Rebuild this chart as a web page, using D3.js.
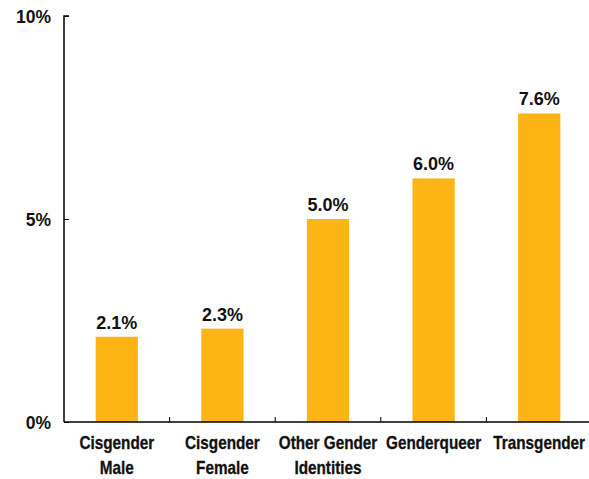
<!DOCTYPE html>
<html>
<head>
<meta charset="utf-8">
<script src="https://cdn.jsdelivr.net/npm/d3@7"></script>
<style>
  body { margin: 0; background: #fff; }
  svg { display: block; }
</style>
</head>
<body>
<svg width="589" height="479"></svg>
<script>
// values
const categories = [['Cisgender', 'Male'], ['Cisgender', 'Female'], ['Other Gender', 'Identities'], ['Genderqueer'], ['Transgender']];
const shares = [2.1, 2.3, 5.0, 6.0, 7.6];
const yTicks = [0, 5, 10];

const svg = d3.select('svg');
const plotLeft = 64, plotRight = 592, plotTop = 16, plotBottom = 422;

const x = d3.scaleBand()
  .domain(d3.range(categories.length))
  .range([plotLeft, plotRight])
  .paddingInner(0.6)
  .paddingOuter(0.3);

const y = d3.scaleLinear().domain([0, 10]).range([plotBottom, plotTop]);

const labelFont = '"Liberation Sans", Arial, sans-serif';

// bars
svg.append('g').selectAll('rect')
  .data(shares)
  .join('rect')
    .attr('x', (d, i) => x(i))
    .attr('y', d => y(d))
    .attr('width', x.bandwidth())
    .attr('height', d => plotBottom - y(d))
    .attr('fill', '#FDB515');

// value labels
svg.append('g').selectAll('text')
  .data(shares)
  .join('text')
    .attr('x', (d, i) => x(i) + x.bandwidth() / 2)
    .attr('y', d => y(d) - 8)
    .attr('text-anchor', 'middle')
    .style('font-family', labelFont)
    .style('font-weight', 'bold')
    .style('font-size', '18px')
    .attr('fill', '#111')
    .text(d => d.toFixed(1) + '%');

// y axis
const yAxis = svg.append('g')
  .attr('transform', `translate(${plotLeft},0)`)
  .call(d3.axisRight(y).tickValues(yTicks).tickSize(5).tickFormat(d => d + '%'));
yAxis.select('.domain').attr('d', `M5,${plotTop}H0V${plotBottom}`).attr('stroke', '#000').attr('stroke-width', 1.5);
yAxis.selectAll('.tick line').attr('stroke', '#000');
yAxis.selectAll('.tick text')
  .attr('x', -13)
  .attr('dy', '0.35em')
  .attr('text-anchor', 'end')
  .style('font-family', labelFont)
  .style('font-weight', 'bold')
  .style('font-size', '17.5px')
  .attr('fill', '#111');

// x axis
const xAxis = svg.append('g')
  .attr('transform', `translate(0,${plotBottom})`);
xAxis.append('line')
  .attr('x1', plotLeft).attr('x2', plotRight)
  .attr('stroke', '#000').attr('stroke-width', 1.5);
xAxis.selectAll('line.tick')
  .data(d3.range(1, categories.length))
  .join('line')
    .attr('class', 'tick')
    .attr('x1', i => x(i) - x.step() * x.paddingInner() / 2)
    .attr('x2', i => x(i) - x.step() * x.paddingInner() / 2)
    .attr('y1', 0).attr('y2', -5)
    .attr('stroke', '#000');

// condensed-looking category labels: squeeze horizontally around the band centre
const xl = xAxis.selectAll('text')
  .data(categories)
  .join('text')
    .attr('transform', (d, i) => `translate(${x(i) + x.bandwidth() / 2},27) scale(0.85,1)`)
    .attr('text-anchor', 'middle')
    .style('font-family', labelFont)
    .style('font-weight', 'bold')
    .style('font-size', '18px')
    .attr('fill', '#111')
    .attr('stroke', '#111')
    .attr('stroke-width', 0.3);
xl.selectAll('tspan')
  .data(d => d)
  .join('tspan')
    .attr('x', 0)
    .attr('dy', (d, j) => j === 0 ? 0 : 25)
    .text(d => d);
</script>
</body>
</html>
